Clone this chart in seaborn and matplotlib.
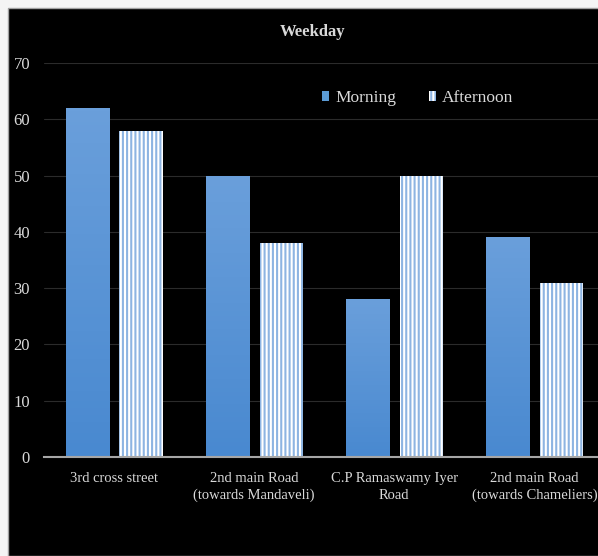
import numpy as np
import pandas as pd
import matplotlib
matplotlib.use("Agg")
import matplotlib.pyplot as plt
from matplotlib.patches import Patch, Rectangle
from matplotlib.colors import LinearSegmentedColormap
import seaborn as sns

# Vehicle counts per location, weekday
locations = [
    "3rd cross street",
    "2nd main Road\n(towards Mandaveli)",
    "C.P Ramaswamy Iyer\nRoad",
    "2nd main Road\n(towards Chameliers)",
]
periods = ["Morning", "Afternoon"]
morning = [62, 50, 28, 39]
afternoon = [58, 38, 50, 31]
y_ticks = [0, 10, 20, 30, 40, 50, 60, 70]
title = "Weekday"

df = pd.DataFrame({
    "location": locations * 2,
    "period": ["Morning"] * len(morning) + ["Afternoon"] * len(afternoon),
    "count": morning + afternoon,
})

sns.set_theme(style="dark")
plt.rcParams["font.family"] = ["Liberation Serif", "DejaVu Serif"]
plt.rcParams["hatch.linewidth"] = 1.5

W, H = 598, 556
fig = plt.figure(figsize=(W / 100, H / 100), dpi=100, facecolor="#f4f4f4")
fig.add_artist(Rectangle((8 / W, 0), 1, 1 - 8 / H, transform=fig.transFigure,
                         facecolor="black", edgecolor="#a0a0a0", linewidth=1,
                         zorder=-1))

ax = fig.add_axes([44 / W, 99 / H, 560.5 / W, 394 / H])
ax.set_facecolor("none")

blue = "#5B9BD5"
stripe = "#8DB4E2"
text_col = "#d9d9d9"

sns.barplot(data=df, x="location", y="count", hue="period", order=locations,
            hue_order=periods, palette={"Morning": blue, "Afternoon": "white"},
            width=0.77, gap=0.2, saturation=1, linewidth=0, legend=False, ax=ax)

# Morning bars: soft vertical gradient
grad = LinearSegmentedColormap.from_list("g", ["#4989d0", "#6a9fdb"])
for p in ax.containers[0]:
    x0, y0 = p.get_x(), p.get_y()
    x1, y1 = x0 + p.get_width(), y0 + p.get_height()
    im = ax.imshow(np.linspace(0, 1, 100).reshape(-1, 1), cmap=grad,
                   origin="lower", extent=[x0, x1, y0, y1], aspect="auto",
                   zorder=p.get_zorder() + 0.1)
    im.set_clip_path(p)

# Afternoon bars: white with blue vertical stripes
for p in ax.containers[1]:
    p.set_facecolor("white")
    p.set_edgecolor(stripe)
    p.set_hatch("||||")
    p.set_linewidth(0)

ax.set_xlim(-0.5, 3.5)
ax.set_ylim(0, 70)
ax.set_yticks(y_ticks)
ax.set_xlabel("")
ax.set_ylabel("")
ax.yaxis.grid(True, color="#2b2b2b", linewidth=0.8)
ax.xaxis.grid(False)
ax.set_axisbelow(True)
for s in ["top", "left", "right"]:
    ax.spines[s].set_visible(False)
ax.spines["bottom"].set_color("#a6a6a6")
ax.spines["bottom"].set_linewidth(1.5)

ax.tick_params(axis="both", length=0, colors=text_col)
ax.tick_params(axis="x", pad=10.5, labelsize=10.5)
ax.tick_params(axis="y", pad=10, labelsize=12)
for lbl in ax.get_xticklabels():
    lbl.set_linespacing(1.4)

fig.text(313 / W, 1 - 32 / H, title, ha="center", va="center",
         fontsize=12, fontweight="bold", color=text_col)

handles = [
    Patch(facecolor=blue, edgecolor="none", label="Morning"),
    Patch(facecolor="white", edgecolor=stripe, hatch="||||", linewidth=0,
          label="Afternoon"),
]
fig.legend(handles=handles, loc="center left",
           bbox_to_anchor=(322 / W, 1 - 98 / H), ncol=2, frameon=False,
           fontsize=12.5, labelcolor=text_col, handlelength=0.4,
           handleheight=0.55, handletextpad=0.35, columnspacing=1.9,
           borderpad=0, borderaxespad=0)

fig.savefig("out.png", dpi=100, facecolor=fig.get_facecolor())
